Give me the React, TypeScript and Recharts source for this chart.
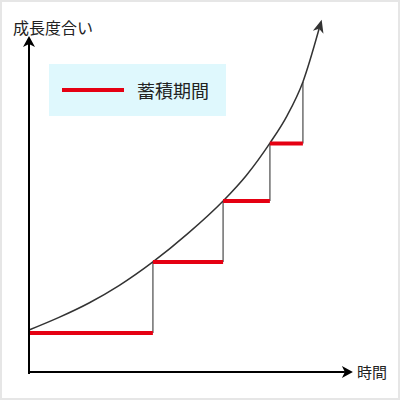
import React from 'react';
import { ComposedChart, Line, XAxis, YAxis, ReferenceLine, Legend } from 'recharts';

// ---- data ----
const growthAxisLabel = '成長度合い';
const timeAxisLabel = '時間';
const legendLabel = '蓄積期間';

// growth curve (time, growth)
const curveTime = [0, 10, 20, 30, 41.3, 53, 64.7, 72.5, 80.3, 86, 91.3, 96.7];
const curveGrowth = [14, 18.2, 23, 28.8, 36.7, 46.2, 57, 65.6, 76.3, 85.4, 96.7, 114.4];

// accumulation periods
const stepStart = [0, 41.3, 64.7, 80.3];
const stepEnd = [41.3, 64.7, 80.3, 91.3];
const stepLevel = [13, 36.7, 57, 76.2];
const stepTop = [36.7, 57, 76.3, 96.7];

// axes extents
const timeDomain = [0, 110];
const growthDomain = [0, 120];
const timeAxisEnd = 105.3;
const growthAxisEnd = 109.3;

const curveData = curveTime.map((t, i) => ({ t, g: curveGrowth[i] }));

const RED = '#e50012';
const FONT = '"Noto Sans CJK JP", "Noto Sans", sans-serif';

const LegendBox = () => (
  <div
    style={{
      width: 177,
      height: 52,
      background: '#dff8fd',
      display: 'flex',
      alignItems: 'center',
      boxSizing: 'border-box',
      fontFamily: FONT,
    }}
  >
    <div style={{ marginLeft: 13, width: 62, height: 4, background: RED }} />
    <span style={{ marginLeft: 13, fontSize: 18, color: '#222', lineHeight: 1 }}>{legendLabel}</span>
  </div>
);

const AxisTexts = () => (
  <g fontFamily={FONT} fill="#222">
    <text x={13} y={27} fontSize={16} dominantBaseline="central">
      {growthAxisLabel}
    </text>
    <text x={357} y={371} fontSize={15} dominantBaseline="central">
      {timeAxisLabel}
    </text>
  </g>
);

export default function App() {
  return (
    <div style={{ position: 'relative', width: 400, height: 400, background: '#fff' }}>
      <style>{`body{margin:0}`}</style>
      <svg width={0} height={0} style={{ position: 'absolute' }}>
        <defs>
          <marker
            id="axisArrow"
            markerUnits="userSpaceOnUse"
            markerWidth={11}
            markerHeight={12}
            viewBox="0 0 11 12"
            refX={3}
            refY={6}
            orient="auto"
            overflow="visible"
          >
            <path d="M0,0 L11,6 L0,12 L3,6 Z" fill="#000" />
          </marker>
          <marker
            id="curveArrow"
            markerUnits="userSpaceOnUse"
            markerWidth={13}
            markerHeight={11}
            viewBox="0 0 13 11"
            refX={3.5}
            refY={5.5}
            orient="auto"
            overflow="visible"
          >
            <path d="M0,0 L13,5.5 L0,11 L3.5,5.5 Z" fill="#333" />
          </marker>
        </defs>
      </svg>
      <ComposedChart
        width={400}
        height={400}
        data={curveData}
        margin={{ top: 12, left: 29, right: 41, bottom: 28 }}
      >
        <XAxis dataKey="t" type="number" domain={timeDomain} hide />
        <YAxis type="number" domain={growthDomain} hide />
        <Legend
          layout="vertical"
          align="center"
          verticalAlign="middle"
          content={() => <LegendBox />}
          wrapperStyle={{ left: 49, top: 64, width: 177, height: 52 }}
        />
        {stepStart.map((s, i) => (
          <ReferenceLine
            key={`v${i}`}
            segment={[
              { x: stepEnd[i], y: stepLevel[i] },
              { x: stepEnd[i], y: stepTop[i] },
            ]}
            stroke="#777"
            strokeWidth={1.6}
            ifOverflow="visible"
          />
        ))}
        <Line
          dataKey="g"
          type="monotone"
          stroke="#333"
          strokeWidth={1.5}
          dot={false}
          activeDot={false}
          isAnimationActive={false}
          markerEnd="url(#curveArrow)"
          legendType="none"
        />
        {stepStart.map((s, i) => (
          <ReferenceLine
            key={`r${i}`}
            segment={[
              { x: s, y: stepLevel[i] },
              { x: stepEnd[i], y: stepLevel[i] },
            ]}
            stroke={RED}
            strokeWidth={4}
            ifOverflow="visible"
          />
        ))}
        <ReferenceLine
          segment={[
            { x: 0, y: -0.67 },
            { x: 0, y: growthAxisEnd },
          ]}
          stroke="#000"
          strokeWidth={2}
          ifOverflow="visible"
          markerEnd="url(#axisArrow)"
        />
        <ReferenceLine
          segment={[
            { x: -0.33, y: 0 },
            { x: timeAxisEnd, y: 0 },
          ]}
          stroke="#000"
          strokeWidth={2}
          ifOverflow="visible"
          markerEnd="url(#axisArrow)"
        />
        <AxisTexts />
      </ComposedChart>
      <div
        style={{
          position: 'absolute',
          inset: 0,
          border: '2px solid #e6e6e6',
          boxSizing: 'border-box',
          pointerEvents: 'none',
        }}
      />
    </div>
  );
}
